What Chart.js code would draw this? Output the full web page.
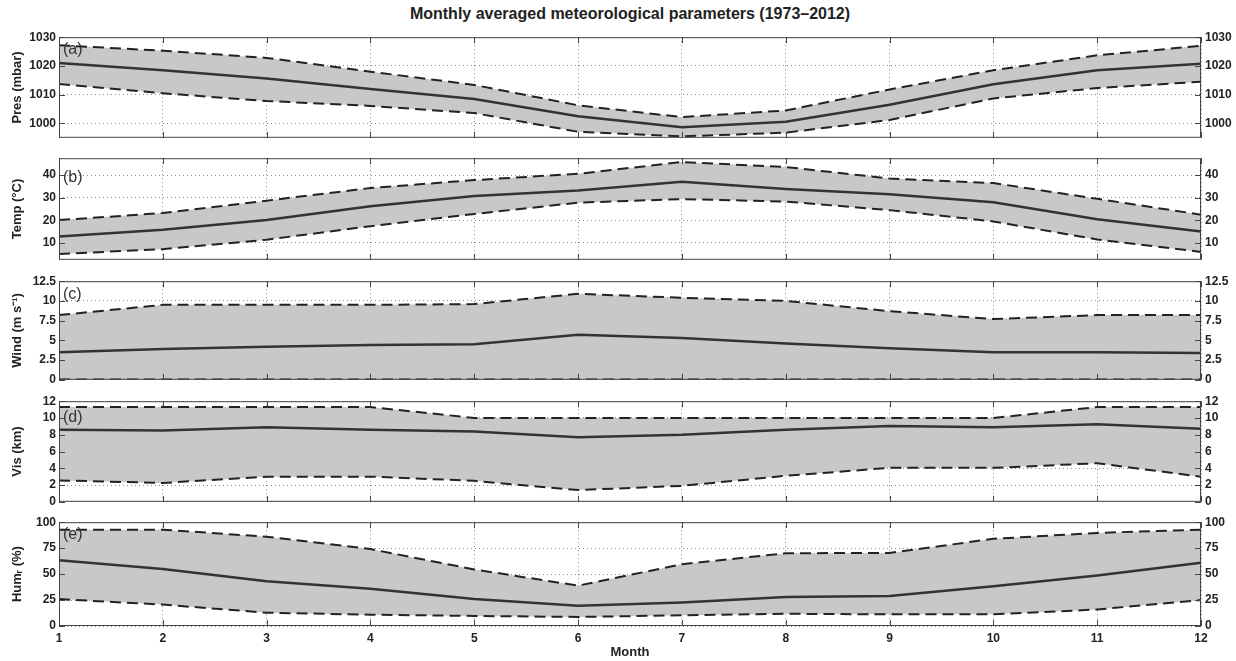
<!DOCTYPE html>
<html>
<head>
<meta charset="utf-8">
<script src="https://cdn.jsdelivr.net/npm/chart.js@4/dist/chart.umd.min.js"></script>
<style>
  body { margin: 0; background: #fff; }
  #wrap { position: relative; width: 1236px; height: 661px; overflow: hidden; }
  #wrap canvas { position: absolute; left: 0; }
  #title { position: absolute; top: 5px; left: 59px; width: 1142px; text-align: center; line-height: 18px;
           font: bold 16px "Liberation Sans", Arial, sans-serif; color: #222; }
</style>
</head>
<body>
<div id="wrap">
  <div id="title">Monthly averaged meteorological parameters (1973–2012)</div>
  <canvas id="presChart" width="1236" height="123" style="top:26px"></canvas>
  <canvas id="tempChart" width="1236" height="124" style="top:147px"></canvas>
  <canvas id="windChart" width="1236" height="121" style="top:270px"></canvas>
  <canvas id="visChart" width="1236" height="123" style="top:390px"></canvas>
  <canvas id="humChart" width="1236" height="150" style="top:511px"></canvas>
</div>
<script>
// data
const months = [1, 2, 3, 4, 5, 6, 7, 8, 9, 10, 11, 12];

const presMean  = [1021, 1018.5, 1015.6, 1012, 1008.5, 1002.5, 998.7, 1000.6, 1006.5, 1013.6, 1018.5, 1020.8];
const presUpper = [1027.2, 1025.3, 1022.8, 1018, 1013.4, 1006.3, 1002.2, 1004.5, 1011.8, 1018.5, 1023.7, 1027];
const presLower = [1013.7, 1010.5, 1007.8, 1006.1, 1003.6, 997.1, 995.5, 996.8, 1001.2, 1008.7, 1012.3, 1014.5];
const presTicks = [1000, 1010, 1020, 1030];

const tempMean  = [12.8, 15.8, 20.1, 26.2, 30.8, 33.2, 37.1, 33.9, 31.5, 28, 20.5, 15];
const tempUpper = [20.1, 23.2, 28.7, 34.3, 37.8, 40.6, 45.8, 43.6, 38.5, 36.5, 29.5, 22.5];
const tempLower = [5.1, 7.2, 11.4, 17.4, 22.8, 27.8, 29.4, 28.3, 24.5, 19.5, 11.5, 6];
const tempTicks = [10, 20, 30, 40];

const windMean  = [3.5, 3.9, 4.2, 4.4, 4.5, 5.7, 5.3, 4.6, 4.0, 3.5, 3.5, 3.4];
const windUpper = [8.2, 9.5, 9.5, 9.5, 9.6, 10.9, 10.4, 10.0, 8.7, 7.7, 8.2, 8.2];
const windLower = [0.05, 0.05, 0.05, 0.05, 0.05, 0.05, 0.05, 0.05, 0.05, 0.05, 0.05, 0.05];
const windTicks = [0, 2.5, 5, 7.5, 10, 12.5];

const visMean  = [8.6, 8.5, 8.9, 8.6, 8.4, 7.7, 8.0, 8.6, 9.05, 8.9, 9.25, 8.7];
const visUpper = [11.3, 11.3, 11.3, 11.3, 10.0, 10.0, 10.0, 10.0, 10.0, 10.0, 11.3, 11.3];
const visLower = [2.55, 2.25, 3.0, 3.0, 2.5, 1.4, 1.9, 3.1, 4.05, 4.05, 4.6, 3.0];
const visTicks = [0, 2, 4, 6, 8, 10, 12];

const humMean  = [63.3, 54.9, 43, 35.8, 25.9, 19.6, 22.7, 28, 29, 38.3, 48.6, 61];
const humUpper = [92.8, 92.8, 86, 74.1, 54.5, 38.9, 59.5, 70.1, 70.4, 84, 89.7, 92.8];
const humLower = [25.9, 20.6, 12.8, 10.9, 9.7, 8.7, 10.3, 11.8, 11.2, 11.2, 15.9, 25];
const humTicks = [0, 25, 50, 75, 100];

const FONT = '"Liberation Sans", Arial, sans-serif';

// frame, inward tick marks and panel letter
const boxPlugin = {
    id: 'box',
    afterDraw(chart, args, opts) {
        const ctx = chart.ctx;
        const a = chart.chartArea;
        const xs = chart.scales.x, ys = chart.scales.y;
        ctx.save();
        ctx.strokeStyle = '#444';
        ctx.lineWidth = 1;
        ctx.strokeRect(a.left + 0.5, a.top + 0.5, a.width - 1, a.height - 1);
        ctx.beginPath();
        xs.ticks.forEach(function(t, i) {
            const x = Math.round(xs.getPixelForTick(i)) + 0.5;
            ctx.moveTo(x, a.bottom); ctx.lineTo(x, a.bottom - 6);
            ctx.moveTo(x, a.top); ctx.lineTo(x, a.top + 6);
        });
        ys.ticks.forEach(function(t) {
            const y = Math.round(ys.getPixelForValue(t.value)) + 0.5;
            ctx.moveTo(a.left, y); ctx.lineTo(a.left + 6, y);
            ctx.moveTo(a.right, y); ctx.lineTo(a.right - 6, y);
        });
        ctx.stroke();
        ctx.font = '16px ' + FONT;
        ctx.fillStyle = '#333';
        ctx.textBaseline = 'middle';
        ctx.fillText(opts.label, a.left + 4, a.top + opts.dy);
        ctx.restore();
    }
};

function makePanel(id, mean, upper, lower, yMin, yMax, yTicks, yTitle, label, dy, isBottom) {
    const setTicks = function(scale) {
        scale.ticks = yTicks.map(function(v) { return { value: v }; });
    };
    const tickFont = { family: FONT, size: 12, weight: 'bold' };
    new Chart(document.getElementById(id).getContext('2d'), {
        type: 'line',
        data: {
            labels: months,
            datasets: [{
                label: 'mean',
                data: mean,
                borderColor: '#333',
                borderWidth: 2.5,
                pointRadius: 0,
                fill: false
            }, {
                label: 'upper',
                data: upper,
                borderColor: '#222',
                borderWidth: 2,
                borderDash: [11, 6],
                pointRadius: 0,
                fill: '+1',
                backgroundColor: '#c8c8c8'
            }, {
                label: 'lower',
                data: lower,
                borderColor: '#222',
                borderWidth: 2,
                borderDash: [11, 6],
                pointRadius: 0,
                fill: false
            }]
        },
        options: {
            responsive: false,
            animation: false,
            layout: { padding: { top: 8, bottom: isBottom ? 0 : 8, left: 0, right: 0 } },
            plugins: {
                legend: { display: false },
                tooltip: { enabled: false },
                filler: { drawTime: 'beforeDatasetsDraw' },
                box: { label: label, dy: dy }
            },
            scales: {
                x: {
                    z: 1,
                    grid: { color: '#8a8a8a', lineWidth: 1, drawTicks: false, borderDash: [1, 3] },
                    border: { display: false, dash: [1, 3] },
                    ticks: { display: isBottom, padding: 5, color: '#222', font: tickFont, maxRotation: 0, autoSkip: false },
                    title: { display: isBottom, text: 'Month', color: '#222',
                             font: { family: FONT, size: 13, weight: 'bold' }, padding: { top: 0, bottom: 1 } },
                    afterFit: function(s) { s.height = isBottom ? 35 : 0; }
                },
                y: {
                    z: 1,
                    position: 'left',
                    min: yMin,
                    max: yMax,
                    afterBuildTicks: setTicks,
                    grid: { color: '#8a8a8a', lineWidth: 1, drawTicks: false, borderDash: [1, 3] },
                    border: { display: false, dash: [1, 3] },
                    ticks: { padding: 3, color: '#222', font: tickFont, autoSkip: false,
                             callback: function(v) { return String(v); } },
                    title: { display: true, text: yTitle, color: '#222',
                             font: { family: FONT, size: 13, weight: 'bold' }, padding: { top: 10, bottom: 0 } },
                    afterFit: function(s) { s.width = 59; }
                },
                y2: {
                    position: 'right',
                    min: yMin,
                    max: yMax,
                    afterBuildTicks: setTicks,
                    grid: { display: false, drawTicks: false },
                    border: { display: false },
                    ticks: { padding: 4, color: '#222', font: tickFont, autoSkip: false,
                             callback: function(v) { return String(v); } },
                    afterFit: function(s) { s.width = 35; }
                }
            }
        },
        plugins: [boxPlugin]
    });
}

makePanel('presChart', presMean, presUpper, presLower, 995, 1030, presTicks, 'Pres (mbar)', '(a)', 12.5, false);
makePanel('tempChart', tempMean, tempUpper, tempLower, 2.5, 47.5, tempTicks, 'Temp (°C)', '(b)', 19, false);
makePanel('windChart', windMean, windUpper, windLower, 0, 12.5, windTicks, 'Wind (m s⁻¹)', '(c)', 13, false);
makePanel('visChart', visMean, visUpper, visLower, 0, 12, visTicks, 'Vis (km)', '(d)', 16.5, false);
makePanel('humChart', humMean, humUpper, humLower, 0, 100, humTicks, 'Humᵣ (%)', '(e)', 12, true);
</script>
</body>
</html>
